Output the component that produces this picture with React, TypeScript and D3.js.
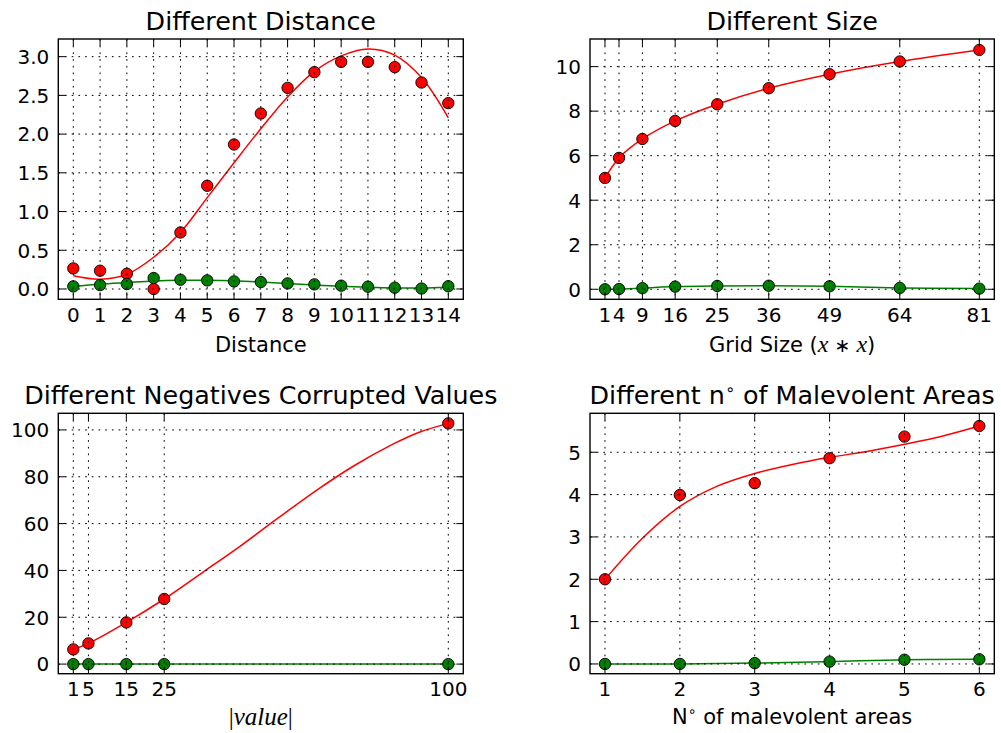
import React from "react";
import * as d3 from "d3";

// Different Distance
const distX = [0, 1, 2, 3, 4, 5, 6, 7, 8, 9, 10, 11, 12, 13, 14];
const distRed = [0.266, 0.236, 0.197, 0.0, 0.73, 1.333, 1.866, 2.266, 2.597, 2.8, 2.933, 2.933, 2.865, 2.666, 2.4];
const distGreen = [0.034, 0.051, 0.064, 0.142, 0.12, 0.111, 0.098, 0.09, 0.072, 0.06, 0.043, 0.03, 0.017, 0.006, 0.036];
const distRedFit = [0.17, 0.125, 0.19, 0.41, 0.73, 1.18, 1.63, 2.07, 2.48, 2.81, 3.01, 3.1, 3.02, 2.73, 2.21];
const distGreenFit = [0.034, 0.062, 0.083, 0.103, 0.113, 0.113, 0.105, 0.09, 0.07, 0.052, 0.036, 0.023, 0.014, 0.012, 0.022];
const distYTicks = [0, 0.5, 1, 1.5, 2, 2.5, 3];

// Different Size
const sizeX = [1, 4, 9, 16, 25, 36, 49, 64, 81];
const sizeRed = [5.0, 5.9, 6.75, 7.56, 8.31, 9.03, 9.66, 10.23, 10.75];
const sizeGreen = [0.0, 0.01, 0.05, 0.12, 0.15, 0.16, 0.135, 0.06, 0.03];
const sizeYTicks = [0, 2, 4, 6, 8, 10];

// Different Negatives Corrupted Values
const negX = [1, 5, 15, 25, 100];
const negRed = [6.27, 8.83, 17.8, 27.8, 102.8];
const negGreen = [0, 0, 0, 0, 0];
const negFitX = [1, 5, 15, 25, 35, 45, 55, 65, 75, 85, 92.5, 100];
const negFitRed = [6.27, 8.83, 17.8, 27.8, 39.0, 50.3, 62.3, 74.0, 84.6, 93.6, 99.1, 102.8];
const negYTicks = [0, 20, 40, 60, 80, 100];

// Different n° of Malevolent Areas
const areaX = [1, 2, 3, 4, 5, 6];
const areaRed = [2.0, 3.99, 4.27, 4.86, 5.37, 5.62];
const areaGreen = [0.0, 0.0, 0.02, 0.055, 0.1, 0.11];
const areaFitX = [1, 1.5, 2, 2.5, 3, 3.5, 4, 4.5, 5, 5.5, 6];
const areaFitRed = [2.0, 2.97, 3.72, 4.2, 4.5, 4.71, 4.88, 5.02, 5.19, 5.38, 5.62];
const areaYTicks = [0, 1, 2, 3, 4, 5];

const RED = "#ff0000";
const GREEN = "#008000";
const FONT = "DejaVu Sans";

type Box = { left: number; top: number; right: number; bottom: number };

type PanelProps = {
  id: string;
  box: Box;
  xDomain: [number, number];
  yDomain: [number, number];
  xTicks: number[];
  yTicks: number[];
  yFormat: (v: number) => string;
  title: React.ReactNode;
  xlabel: React.ReactNode;
  xlabelY: number;
  xlabelFont?: string;
  xlabelSize?: number;
  redX: number[];
  redY: number[];
  redLineX: number[];
  redLineY: number[];
  greenX: number[];
  greenY: number[];
  greenLineX: number[];
  greenLineY: number[];
};

function Panel(p: PanelProps) {
  const { box } = p;
  const x = d3.scaleLinear().domain(p.xDomain).range([box.left, box.right]);
  const y = d3.scaleLinear().domain(p.yDomain).range([box.bottom, box.top]);
  const line = d3
    .line<[number, number]>()
    .x(d => x(d[0]))
    .y(d => y(d[1]))
    .curve(d3.curveCatmullRom.alpha(0.5));
  const zip = (a: number[], b: number[]) => a.map((v, i) => [v, b[i]] as [number, number]);
  const cx = (box.left + box.right) / 2;
  const tick = 7;

  const markers = (xs: number[], ys: number[], color: string) =>
    xs.map((v, i) => (
      <circle key={i} cx={x(v)} cy={y(ys[i])} r={5.7} fill={color} stroke="#000" strokeWidth={0.9} />
    ));

  return (
    <g>
      <defs>
        <clipPath id={p.id}>
          <rect x={box.left} y={box.top} width={box.right - box.left} height={box.bottom - box.top} />
        </clipPath>
      </defs>
      <g clipPath={`url(#${p.id})`}>
        <path d={line(zip(p.redLineX, p.redLineY)) || ""} fill="none" stroke={RED} strokeWidth={1.5} />
        {markers(p.redX, p.redY, RED)}
        <path d={line(zip(p.greenLineX, p.greenLineY)) || ""} fill="none" stroke={GREEN} strokeWidth={1.5} />
        {markers(p.greenX, p.greenY, GREEN)}
      </g>
      {/* grid drawn above the data, classic style */}
      <g stroke="#000" strokeWidth={1} strokeDasharray="1.7,5" fill="none">
        {p.xTicks.map((t, i) => (
          <line key={"gx" + i} x1={x(t)} x2={x(t)} y1={box.top} y2={box.bottom} />
        ))}
        {p.yTicks.map((t, i) => (
          <line key={"gy" + i} x1={box.left} x2={box.right} y1={y(t)} y2={y(t)} />
        ))}
      </g>
      <g stroke="#000" strokeWidth={1}>
        {p.xTicks.map((t, i) => (
          <g key={"tx" + i}>
            <line x1={x(t)} x2={x(t)} y1={box.bottom} y2={box.bottom - tick} />
            <line x1={x(t)} x2={x(t)} y1={box.top} y2={box.top + tick} />
          </g>
        ))}
        {p.yTicks.map((t, i) => (
          <g key={"ty" + i}>
            <line x1={box.left} x2={box.left + tick} y1={y(t)} y2={y(t)} />
            <line x1={box.right} x2={box.right - tick} y1={y(t)} y2={y(t)} />
          </g>
        ))}
      </g>
      <rect
        x={box.left}
        y={box.top}
        width={box.right - box.left}
        height={box.bottom - box.top}
        fill="none"
        stroke="#000"
        strokeWidth={1.4}
      />
      <g fontFamily={FONT} fontSize={20} fill="#000">
        {p.xTicks.map((t, i) => (
          <text key={"lx" + i} x={x(t)} y={box.bottom + 22.7} textAnchor="middle">
            {t}
          </text>
        ))}
        {p.yTicks.map((t, i) => (
          <text key={"ly" + i} x={box.left - 9} y={y(t) + 7.3} textAnchor="end">
            {p.yFormat(t)}
          </text>
        ))}
      </g>
      <text x={cx} y={box.top - 9} textAnchor="middle" fontFamily={FONT} fontSize={25.4}>
        {p.title}
      </text>
      <text
        x={cx}
        y={p.xlabelY}
        textAnchor="middle"
        fontFamily={p.xlabelFont || FONT}
        fontSize={p.xlabelSize || 21}
      >
        {p.xlabel}
      </text>
    </g>
  );
}

const ring = (size: number, shift: number, after: string) => [
  <tspan key="r" fontSize={size} dy={-shift}>∘</tspan>,
  <tspan key="a" dy={shift}>{after}</tspan>,
];

export default function App() {
  const topRow = { top: 39, bottom: 299.3 };
  const botRow = { top: 413.3, bottom: 673.7 };
  const leftCol = { left: 58.3, right: 463.3 };
  const rightCol = { left: 590, right: 994.3 };
  const mathFont = "Liberation Serif";

  return (
    <svg
      width={1001}
      height={733}
      style={{ position: "absolute", left: 0, top: 0, background: "#fff" }}
    >
      <rect width={1001} height={733} fill="#fff" />
      <Panel
        id="c1"
        box={{ ...leftCol, ...topRow }}
        xDomain={[-0.56, 14.56]}
        yDomain={[-0.133, 3.228]}
        xTicks={distX}
        yTicks={distYTicks}
        yFormat={d3.format(".1f")}
        title="Different Distance"
        xlabel="Distance"
        xlabelY={352}
        redX={distX}
        redY={distRed}
        redLineX={distX}
        redLineY={distRedFit}
        greenX={distX}
        greenY={distGreen}
        greenLineX={distX}
        greenLineY={distGreenFit}
      />
      <Panel
        id="c2"
        box={{ ...rightCol, ...topRow }}
        xDomain={[-2.2, 84.2]}
        yDomain={[-0.45, 11.24]}
        xTicks={sizeX}
        yTicks={sizeYTicks}
        yFormat={d3.format("d")}
        title="Different Size"
        xlabel={[
          <tspan key="a">Grid Size (</tspan>,
          <tspan key="b" fontFamily={mathFont} fontStyle="italic" fontSize={24}>x</tspan>,
          <tspan key="c" fontFamily={FONT} fontSize={19}> ∗ </tspan>,
          <tspan key="d" fontFamily={mathFont} fontStyle="italic" fontSize={24}>x</tspan>,
          <tspan key="e">)</tspan>,
        ]}
        xlabelY={352}
        redX={sizeX}
        redY={sizeRed}
        redLineX={sizeX}
        redLineY={sizeRed}
        greenX={sizeX}
        greenY={sizeGreen}
        greenLineX={sizeX}
        greenLineY={sizeGreen}
      />
      <Panel
        id="c3"
        box={{ ...leftCol, ...botRow }}
        xDomain={[-2.96, 103.96]}
        yDomain={[-4.1, 107.1]}
        xTicks={negX}
        yTicks={negYTicks}
        yFormat={d3.format("d")}
        title="Different Negatives Corrupted Values"
        xlabel={[
          <tspan key="a" fontStyle="normal">|</tspan>,
          <tspan key="b" fontStyle="italic">value</tspan>,
          <tspan key="c" fontStyle="normal">|</tspan>,
        ]}
        xlabelFont={mathFont}
        xlabelSize={25}
        xlabelY={725}
        redX={negX}
        redY={negRed}
        redLineX={negFitX}
        redLineY={negFitRed}
        greenX={negX}
        greenY={negGreen}
        greenLineX={negX}
        greenLineY={negGreen}
      />
      <Panel
        id="c4"
        box={{ ...rightCol, ...botRow }}
        xDomain={[0.8, 6.2]}
        yDomain={[-0.23, 5.92]}
        xTicks={areaX}
        yTicks={areaYTicks}
        yFormat={d3.format("d")}
        title={["Different n", ...ring(16, 9, " of Malevolent Areas")]}
        xlabel={["N", ...ring(14, 8, " of malevolent areas")]}
        xlabelY={724}
        redX={areaX}
        redY={areaRed}
        redLineX={areaFitX}
        redLineY={areaFitRed}
        greenX={areaX}
        greenY={areaGreen}
        greenLineX={areaX}
        greenLineY={areaGreen}
      />
    </svg>
  );
}
